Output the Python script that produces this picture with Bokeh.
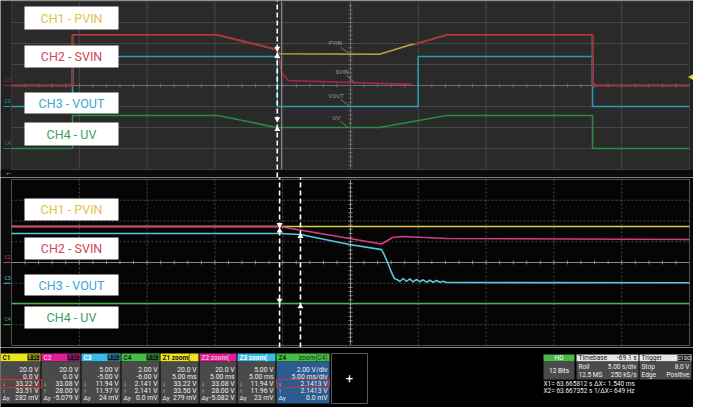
import math
from bokeh.plotting import figure
from bokeh.models import Range1d
from bokeh.layouts import column
from bokeh.core.properties import value
from bokeh.embed import file_html
from bokeh.resources import INLINE

FONT = value("Roboto")
NAN = float("nan")

# ---------------- channel set-up ----------------
channels = ["C1", "C2", "C3", "C4"]
volts_per_div = [20.0, 20.0, 5.0, 2.0]
offset_v = [0.0, 0.0, -5.0, -6.0]
trace_labels = ["CH1 - PVIN", "CH2 - SVIN", "CH3 - VOUT", "CH4 - UV"]
roll_s_per_div = 5.0
zoom_ms_per_div = 5.0
trigger_level_v = 8.0

# ---------------- roll view (time in s) ----------------
roll_pvin_t = [0.0, 4.5, 4.5, 15.24, 19.54, 19.75, 27.14, 29.5, 29.65, 32.08, 42.85, 42.85, 50.0]
roll_pvin_v = [0.0, 0.0, 48.0, 48.0, 34.3, 30.2, 29.8, 39.0, 39.0, 48.0, 48.0, 0.0, 0.0]
roll_svin_t = [0.0, 4.5, 4.5, 15.24, 19.54, 19.66, 19.91, 20.43, 20.8, 29.5, NAN, 29.65, 32.08, 42.85, 42.85, 50.0]
roll_svin_v = [0.0, 0.0, 48.0, 48.0, 34.3, 33.5, 12.4, 4.8, 4.5, 1.1, NAN, 39.0, 48.0, 48.0, 0.0, 0.0]
roll_vout_t = [0.0, 4.5, 4.5, 19.6, 19.6, 29.99, 29.99, 42.85, 42.85, 50.0]
roll_vout_v = [0.0, 0.0, 11.9, 11.9, 0.0, 0.0, 11.9, 11.9, 0.0, 0.0]
roll_uv_t = [0.0, 4.5, 4.5, 15.24, 19.54, 27.14, 32.08, 42.85, 42.85, 50.0]
roll_uv_v = [0.0, 0.0, 3.14, 3.14, 2.0, 2.0, 3.14, 3.14, 0.0, 0.0]
roll_cursors_s = [19.6]
roll_cursor2_s = [19.91]

# ---------------- zoom view (time in ms) ----------------
zoom_pvin_t = [0.0, 50.0]
zoom_pvin_v = [34.7, 34.7]
zoom_svin_t = [0.0, 19.76, 27.29, 28.10, 28.80, 32.08, 50.0]
zoom_svin_v = [34.7, 34.7, 17.8, 24.1, 25.1, 23.1, 22.2]
zoom_vout_t = [0.0, 19.76, 21.31, 24.93, 27.29, 27.51, 27.80, 28.02, 28.24,
               28.39, 28.64, 28.89, 29.13, 29.37, 29.62, 29.87, 30.11, 30.36, 30.60,
               30.85, 31.10, 31.34, 31.59, 31.84, 32.08, 50.0]
zoom_vout_v = [12.0, 12.0, 11.75, 9.34, 8.1, 6.7, 4.5, 2.6, 1.1,
               0.98, 0.42, 1.14, 0.42, 1.07, 0.35, 0.90, 0.35, 0.83, 0.25,
               0.73, 0.25, 0.66, 0.25, 0.49, 0.18, 0.11]
zoom_uv_t = [0.0, 50.0]
zoom_uv_v = [2.05, 2.05]
zoom_cursors_ms = [19.77, 21.31]

# ---------------- readout panel ----------------
box_headers = ["C1", "C2", "C3", "C4", "Z1  zoom(", "Z2  zoom(", "Z3  zoom(", "Z4"]
row_scale = ["20.0 V", "20.0 V", "5.00 V", "2.00 V", "20.0 V", "20.0 V", "5.00 V", "2.00 V/div"]
row_offset = ["0.0 V", "0.0 V", "-5.00 V", "-6.00 V", "5.00 ms", "5.00 ms", "5.00 ms", "5.00 ms/div"]
row_down = ["33.22 V", "33.08 V", "11.94 V", "2.141 V", "33.22 V", "33.08 V", "11.94 V", "2.1413 V"]
row_up = ["33.51 V", "28.00 V", "11.97 V", "2.141 V", "33.50 V", "28.00 V", "11.96 V", "2.1413 V"]
row_delta = ["282 mV", "-5.079 V", "24 mV", "0.0 mV", "279 mV", "-5.082 V", "23 mV", "0.0 mV"]
cursor_lines = ["X1= 63.665812 s  \u0394X=      1.540 ms", "X2= 63.667352 s  1/\u0394X= 649 Hz"]

# ---------------- styling ----------------
top_colors = ["#b8a83c", "#a52a40", "#2b9cb0", "#2b8a4a"]
bot_colors = ["#d9cf40", "#d63c84", "#5ec4dc", "#44b844"]
label_colors = ["#e3c24b", "#d8435a", "#3da6cf", "#3f9c5c"]
hdr_colors = ["#f0e41e", "#e01e96", "#38bde6", "#46be46"] * 2
hdr_text_colors = ["#111111", "#f7b0da", "#ffffff", "#0f2f0f", "#111111", "#f7b0da", "#ffffff", "#0f2f0f"]


def to_div(vals, ch):
    return [(v + offset_v[ch]) / volts_per_div[ch] for v in vals]


def base_fig(w, h, xr, yr, bg):
    p = figure(width=w, height=h, x_range=xr, y_range=yr, output_backend="svg",
               toolbar_location=None, tools="", x_axis_location=None, y_axis_location=None,
               min_border=0)
    p.xgrid.visible = False
    p.ygrid.visible = False
    p.outline_line_color = None
    p.background_fill_color = bg
    p.border_fill_color = bg
    return p


def graticule(p, tdiv, fill, grid_color, dash, center_color, border_color):
    full = 10 * tdiv
    p.quad(left=[0], right=[full], bottom=[-4], top=[4], fill_color=fill, line_color=None)
    xs = [i * tdiv for i in range(1, 10)]
    p.segment(x0=xs, y0=[-4] * 9, x1=xs, y1=[4] * 9, line_color=grid_color, line_width=1, line_dash=dash)
    ys = [-3, -2, -1, 1, 2, 3]
    p.segment(x0=[0] * 6, y0=ys, x1=[full] * 6, y1=ys, line_color=grid_color, line_width=1, line_dash=dash)
    p.segment(x0=[0, 5 * tdiv], y0=[0, -4], x1=[full, 5 * tdiv], y1=[0, 4], line_color=center_color, line_width=1)
    tx = [i * tdiv / 5 for i in range(51)]
    p.segment(x0=tx, y0=[-0.09] * 51, x1=tx, y1=[0.09] * 51, line_color=center_color, line_width=1)
    ty = [i / 5 for i in range(-20, 21)]
    p.segment(x0=[5 * tdiv - 0.03 * tdiv] * 41, y0=ty, x1=[5 * tdiv + 0.03 * tdiv] * 41, y1=ty,
              line_color=center_color, line_width=1)
    p.quad(left=[0], right=[full], bottom=[-4], top=[4], fill_color=None, line_color=border_color, line_width=1)


def label_boxes(p, xpx, ypx_rows, fx, fy):
    for i, (y0, y1) in enumerate(ypx_rows):
        p.quad(left=[fx(28)], right=[fx(122)], top=[fy(y0)], bottom=[fy(y1)], fill_color="white", line_color=None)
        p.text(x=[fx(75)], y=[fy((y0 + y1) / 2)], text=[trace_labels[i]], text_font=FONT,
               text_font_size="12.5px", text_color=label_colors[i], text_align="center", text_baseline="middle")


# ================= TOP (roll) panel =================
def top_x(X):
    return (X - 15.0) / 67.8 * roll_s_per_div


def top_y(Y):
    return (88.0 - Y) / 21.0


p1 = base_fig(693, 177, Range1d(top_x(4), top_x(697)), Range1d(top_y(180), top_y(3)), "#222222")
p1.quad(left=[top_x(4)], right=[top_x(697)], top=[-4], bottom=[top_y(180)], fill_color="#0c0c0c", line_color=None)
graticule(p1, roll_s_per_div, "#2a2a2a", "#474747", "solid", "#6e6e6e", "#3a3a3a")

roll_t = [roll_pvin_t, roll_svin_t, roll_vout_t, roll_uv_t]
roll_v = [roll_pvin_v, roll_svin_v, roll_vout_v, roll_uv_v]
for ch in [0, 2, 3, 1]:
    p1.line(roll_t[ch], to_div(roll_v[ch], ch), line_color=top_colors[ch], line_width=1.6)

# channel ground markers
for ch in [1, 2, 3]:
    g = to_div([0.0], ch)[0]
    p1.segment(x0=[top_x(7)], y0=[g], x1=[top_x(14)], y1=[g], line_color=top_colors[ch], line_width=1.2)
    p1.text(x=[top_x(8)], y=[g + 0.12], text=[channels[ch]], text_font=FONT, text_font_size="5px",
            text_color=top_colors[ch], text_baseline="bottom")

# trigger marker
p1.scatter(x=[top_x(695)], y=to_div([trigger_level_v], 0), marker="triangle", angle=math.pi / 2,
           size=6, fill_color="#e6d230", line_color=None)
p1.text(x=[top_x(9)], y=[top_y(175)], text=["\u2190"], text_font=FONT, text_font_size="7px",
        text_color="#dddddd", text_baseline="middle")

# trace name callouts
ann_text = ["PVIN", "SVIN", "VOUT", "UV"]
ann_xy = [(332, 45), (339, 74), (332, 98), (336, 120)]
ann_lead = [((344, 50), (353, 56)), ((350, 78), (358, 85)), ((344, 102), (354, 109)), ((344, 124), (352, 130))]
for i, t in enumerate(ann_text):
    p1.text(x=[top_x(ann_xy[i][0])], y=[top_y(ann_xy[i][1])], text=[t], text_font=FONT, text_font_size="6px",
            text_color="#9a9a9a", text_baseline="middle")
    (a, b), (c, d) = ann_lead[i]
    p1.segment(x0=[top_x(a)], y0=[top_y(b)], x1=[top_x(c)], y1=[top_y(d)], line_color="#8a8a8a", line_width=0.8)

# cursors
p1.segment(x0=roll_cursor2_s, y0=[-4], x1=roll_cursor2_s, y1=[4], line_color="#8c8c8c", line_width=1)
p1.segment(x0=roll_cursors_s, y0=[top_y(180)], x1=roll_cursors_s, y1=[top_y(3)], line_color="white",
           line_width=1.6, line_dash="5 3")
cs = roll_cursors_s[0]
p1.scatter(x=[cs, cs], y=[to_div([34.3], 1)[0] + 0.05, to_div([2.6], 3)[0] + 0.1], marker="inverted_triangle",
           size=6, fill_color="white", line_color=None)
p1.scatter(x=[cs, cs], y=[to_div([30.2], 0)[0] - 0.12, to_div([2.0], 3)[0] - 0.08], marker="triangle",
           size=6, fill_color="white", line_color=None)

label_boxes(p1, None, [(9, 32), (48, 70), (95, 116), (125, 148)], top_x, top_y)


# ================= BOTTOM (zoom) panel =================
def bot_x(X):
    return (X - 15.0) / 67.8 * zoom_ms_per_div


def bot_y(Y):
    return (265.0 - Y) / 20.75


p2 = base_fig(693, 170, Range1d(bot_x(4), bot_x(697)), Range1d(bot_y(350), bot_y(180)), "#0a0a0a")
graticule(p2, zoom_ms_per_div, "#050505", "#4a4a4a", "2 2", "#8a8a8a", "#4f4f4f")

zoom_t = [zoom_pvin_t, zoom_svin_t, zoom_vout_t, zoom_uv_t]
zoom_v = [zoom_pvin_v, zoom_svin_v, zoom_vout_v, zoom_uv_v]
for ch in [0, 3, 2, 1]:
    p2.line(zoom_t[ch], to_div(zoom_v[ch], ch), line_color=bot_colors[ch], line_width=1.6)
# PVIN overlaid by SVIN before the cursor
p2.line(zoom_svin_t[:2], to_div(zoom_svin_v[:2], 1), line_color=bot_colors[1], line_width=1.6, line_dash="6 2")

for ch in [1, 2, 3]:
    g = to_div([0.0], ch)[0]
    p2.segment(x0=[bot_x(7)], y0=[g], x1=[bot_x(14)], y1=[g], line_color=bot_colors[ch], line_width=1.2)
    p2.text(x=[bot_x(8)], y=[g + 0.12], text=[channels[ch]], text_font=FONT, text_font_size="5px",
            text_color=bot_colors[ch], text_baseline="bottom")

for c in zoom_cursors_ms:
    p2.segment(x0=[c], y0=[bot_y(350)], x1=[c], y1=[bot_y(180)], line_color="white", line_width=1.6, line_dash="5 3")
c1, c2 = zoom_cursors_ms
p2.scatter(x=[c1, c1], y=[to_div([34.7], 0)[0] + 0.08, to_div([2.05], 3)[0] + 0.15], marker="inverted_triangle",
           size=6, fill_color="white", line_color=None)
p2.scatter(x=[c1, c2, c2], y=[to_div([34.7], 0)[0] - 0.2, to_div([11.75], 2)[0] - 0.08, to_div([2.05], 3)[0] - 0.15],
           marker="triangle", size=6, fill_color="white", line_color=None)

label_boxes(p2, None, [(201, 223), (240, 262), (277, 298), (309, 331)], bot_x, bot_y)

# ================= READOUT bar =================
p3 = base_fig(693, 60, Range1d(4, 697), Range1d(410, 350), "#000000")

box_left = [4, 45, 85, 125, 164, 203, 241, 280]
box_right = [44, 84, 124, 163, 202, 240, 279, 333]
body_colors = ["#4a4a4a"] * 7 + ["#2c5c90"]
p3.quad(left=box_left, right=box_right, top=[356] * 8, bottom=[364] * 8, fill_color=hdr_colors, line_color=None)
p3.quad(left=box_left, right=box_right, top=[364] * 8, bottom=[406] * 8, fill_color=body_colors, line_color=None)
p3.text(x=[l + 2 for l in box_left], y=[360.5] * 8, text=box_headers, text_font=FONT, text_font_size="6.5px",
        text_color=hdr_text_colors, text_baseline="middle", text_font_style="bold")
p3.text(x=[331], y=[360.5], text=["zoom(C4)"], text_font=FONT, text_font_size="6.5px",
        text_color="#0f2f0f", text_align="right", text_baseline="middle")
# coupling badges
p3.quad(left=[r - 13 for r in box_right[:4]], right=[r - 1 for r in box_right[:4]], top=[357] * 4,
        bottom=[363] * 4, fill_color="#151515", line_color=None)
p3.text(x=[r - 7 for r in box_right[:4]], y=[360.2] * 4, text=["B DC"] * 4, text_font=FONT, text_font_size="4.5px",
        text_color=hdr_colors[:4], text_align="center", text_baseline="middle")

row_y = [372, 379, 386, 393, 400]
rows = [row_scale, row_offset, row_down, row_up, row_delta]
for ry, rv in zip(row_y, rows):
    p3.text(x=[r - 2 for r in box_right], y=[ry] * 8, text=rv, text_font=FONT, text_font_size="6.8px",
            text_color="#eeeeee", text_align="right", text_baseline="middle")
for ry, sym in zip(row_y[2:], ["\u2193", "\u2191", "\u0394y"]):
    p3.text(x=[l + 2 for l in box_left], y=[ry] * 8, text=[sym] * 8, text_font=FONT, text_font_size="6.2px",
            text_color="#eeeeee", text_baseline="middle")
# highlight rectangles
p3.quad(left=[4, 280], right=[45, 333], top=[382, 382], bottom=[390, 390], fill_color=None,
        line_color="#d03030", line_width=1)
# add box
p3.quad(left=[335], right=[371], top=[356], bottom=[406], fill_color="#000000", line_color="#5a5a5a", line_width=1)
p3.text(x=[353], y=[381], text=["+"], text_font=FONT, text_font_size="13px", text_color="white",
        text_align="center", text_baseline="middle")

# acquisition boxes
p3.quad(left=[547, 580, 643], right=[578, 642, 695], top=[357] * 3, bottom=[364] * 3,
        fill_color=["#4cb848", "#e6e6e6", "#e6e6e6"], line_color=None)
p3.quad(left=[547, 580, 643], right=[578, 642, 695], top=[364] * 3, bottom=[382] * 3,
        fill_color="#4a4a4a", line_color=None)
p3.quad(left=[681], right=[694], top=[357.5], bottom=[363.5], fill_color="#222222", line_color=None)
p3.text(x=[562.5, 562.5], y=[360.5, 373], text=["HD", "12 Bits"], text_font=FONT, text_font_size="6.5px",
        text_color="#ffffff", text_align="center", text_baseline="middle")
p3.text(x=[582, 645], y=[360.5, 360.5], text=["Timebase", "Trigger"], text_font=FONT, text_font_size="6.5px",
        text_color="#111111", text_baseline="middle")
p3.text(x=[640], y=[360.5], text=["-69.1 s"], text_font=FONT, text_font_size="6.5px",
        text_color="#111111", text_align="right", text_baseline="middle")
p3.text(x=[687.5], y=[360.5], text=["C1 DC"], text_font=FONT, text_font_size="4.5px",
        text_color="#ffffff", text_align="center", text_baseline="middle")
p3.text(x=[582, 582, 645, 645], y=[369, 377, 369, 377], text=["Roll", "12.5 MS", "Stop", "Edge"], text_font=FONT,
        text_font_size="6.5px", text_color="#eeeeee", text_baseline="middle")
p3.text(x=[640, 640, 693, 693], y=[369, 377, 369, 377], text=["5.00 s/div", "250 kS/s", "8.0 V", "Positive"],
        text_font=FONT, text_font_size="6.5px", text_color="#eeeeee", text_align="right", text_baseline="middle")
p3.text(x=[547, 547], y=[386, 393], text=cursor_lines, text_font=FONT, text_font_size="6.5px",
        text_color="#f0f0f0", text_baseline="middle")

layout = column(p1, p2, p3, spacing=0)
open("out.html", "w").write(file_html(layout, INLINE))
